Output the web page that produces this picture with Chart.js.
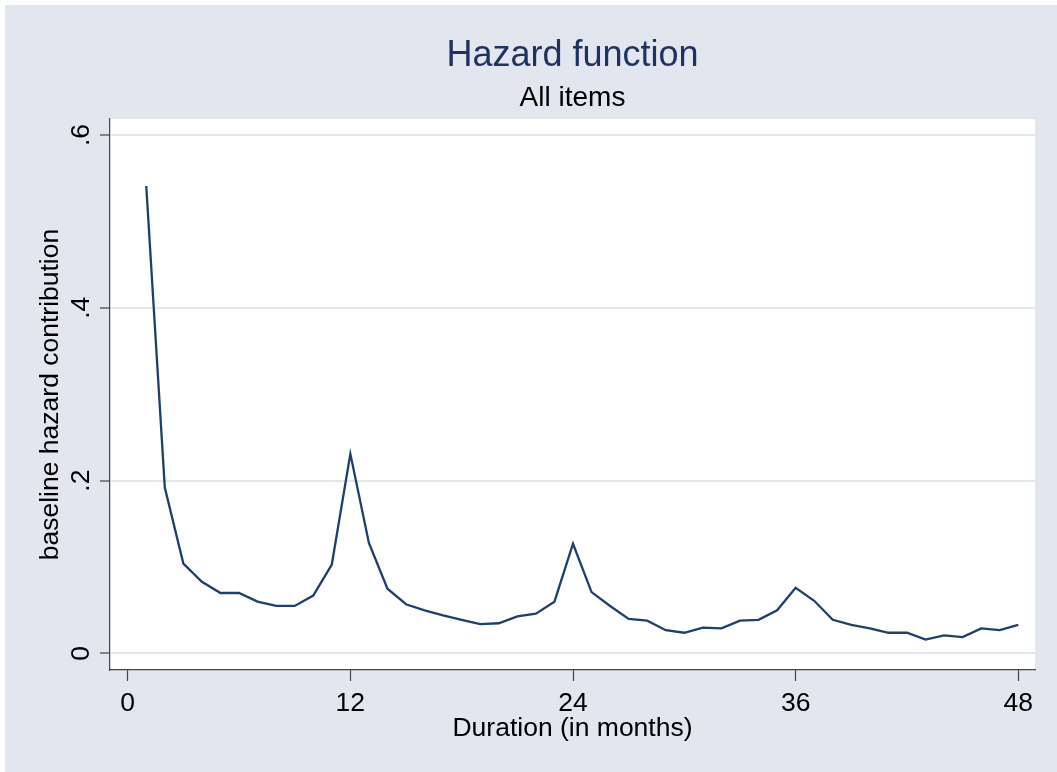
<!DOCTYPE html>
<html>
<head>
<meta charset="utf-8">
<script src="https://cdn.jsdelivr.net/npm/chart.js@4.4.1/dist/chart.umd.min.js"></script>
<style>
  html, body { margin: 0; padding: 0; background: #ffffff; overflow: hidden; }
  #wrap { position: absolute; left: 5px; top: 5px; width: 1070px; height: 790px; background: #e1e6ef; }
  #chart { display: block; }
</style>
</head>
<body>
<div id="wrap"><canvas id="chart" width="1052" height="767"></canvas></div>
<script>
// months since start
const months = [1,2,3,4,5,6,7,8,9,10,11,12,13,14,15,16,17,18,19,20,21,22,23,24,
    25,26,27,28,29,30,31,32,33,34,35,36,37,38,39,40,41,42,43,44,45,46,47,48];
// baseline hazard contribution
const hazard = [0.541,0.192,0.104,0.083,0.070,0.070,0.060,0.055,0.055,0.067,0.103,0.231,
    0.128,0.075,0.057,0.050,0.044,0.039,0.034,0.035,0.043,0.046,0.060,0.127,
    0.071,0.055,0.040,0.038,0.027,0.024,0.030,0.029,0.038,0.039,0.050,0.076,
    0.061,0.039,0.033,0.029,0.024,0.024,0.016,0.021,0.019,0.029,0.027,0.033];

const xTicks = [0,12,24,36,48];
const yTicks = [0,0.2,0.4,0.6];
const yTickLabels = ['0','.2','.4','.6'];

const bg = '#e1e6ef';
const navy = '#1f3f6e';
const axisFont = {family:'"Liberation Sans", Arial, sans-serif', size:26.5};

const plotBg = {
    id:'plotBg',
    beforeDraw(chart){
        const a = chart.chartArea, ctx = chart.ctx;
        ctx.save();
        ctx.fillStyle = '#ffffff';
        ctx.fillRect(a.left, a.top, a.right - a.left, a.bottom - a.top);
        ctx.restore();
    }
};

new Chart(document.getElementById('chart'), {
    type:'line',
    data:{
        datasets:[{
            data: months.map((m,i)=>({x:m, y:hazard[i]})),
            borderColor: navy,
            borderWidth: 2.3,
            pointRadius: 0,
            tension: 0,
            fill: false
        }]
    },
    options:{
        responsive:false,
        animation:false,
        layout:{padding:{left:0, top:0, right:22, bottom:0}},
        plugins:{
            legend:{display:false},
            tooltip:{enabled:false},
            title:{
                display:true,
                text:'Hazard function',
                fullSize:false,
                color:'#1f3263',
                font:{family:'"Liberation Sans", Arial, sans-serif', size:36, weight:'normal'},
                padding:{top:29.7, bottom:0}
            },
            subtitle:{
                display:true,
                text:'All items',
                fullSize:false,
                color:'#000000',
                font:{family:'"Liberation Sans", Arial, sans-serif', size:28, weight:'normal'},
                padding:{top:3.6, bottom:3.9}
            }
        },
        scales:{
            x:{
                type:'linear',
                min:-0.954,
                max:48.9,
                afterBuildTicks(scale){ scale.ticks = xTicks.map(v=>({value:v})); },
                afterFit(scale){ scale.height = 102; },
                grid:{display:true, drawOnChartArea:false, tickLength:11, tickColor:'#444444', tickWidth:1.2},
                border:{display:true, color:'#444444', width:1.2},
                ticks:{color:'#000000', font:axisFont, padding:7, maxRotation:0},
                title:{display:true, text:'Duration (in months)', color:'#000000', font:axisFont, padding:{top:0, bottom:27.6}}
            },
            y:{
                min:-0.0191,
                max:0.6185,
                afterBuildTicks(scale){ scale.ticks = yTicks.map(v=>({value:v})); },
                afterFit(scale){ scale.width = 105; },
                grid:{color:bg, lineWidth:2, tickLength:10, tickColor:'#444444', tickWidth:1.2},
                border:{display:true, color:'#444444', width:1.2},
                ticks:{
                    color:'#000000', font:axisFont, padding:7,
                    minRotation:90, maxRotation:90, crossAlign:'center',
                    callback:(v)=>{ const i = yTicks.indexOf(v); return i >= 0 ? yTickLabels[i] : ''; }
                },
                title:{display:true, text:'baseline hazard contribution', color:'#000000', font:axisFont, padding:{top:30, bottom:0}}
            }
        }
    },
    plugins:[plotBg]
});
</script>
</body>
</html>
